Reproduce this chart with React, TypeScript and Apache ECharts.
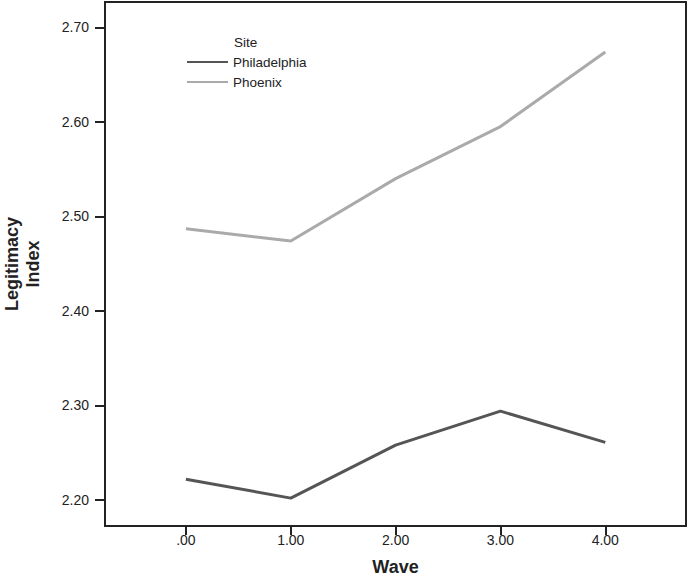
import React, { useEffect, useRef } from "react";
import * as echarts from "echarts";

const waves = [0, 1, 2, 3, 4];
const philadelphia = [2.222, 2.202, 2.258, 2.294, 2.261];
const phoenix = [2.487, 2.474, 2.54, 2.595, 2.674];
const yTicks = [2.2, 2.3, 2.4, 2.5, 2.6, 2.7];

const FONT = "'Liberation Sans', Arial, sans-serif";

export default function App() {
  const ref = useRef<HTMLDivElement>(null);
  useEffect(() => {
    document.body.style.margin = "0";
    const chart = echarts.init(ref.current!, undefined, { renderer: "svg" });
    chart.setOption({
      animation: false,
      backgroundColor: "#ffffff",
      textStyle: { fontFamily: FONT },
      title: {
        text: "Site",
        left: 229,
        top: 30,
        textStyle: { fontSize: 13.5, fontWeight: "normal", color: "#222", fontFamily: FONT },
      },
      legend: {
        orient: "vertical",
        left: 182,
        top: 50,
        icon: "rect",
        itemWidth: 41,
        itemHeight: 2,
        itemGap: 6,
        itemTextGap: 6,
        textStyle: { fontSize: 13.5, color: "#222", lineHeight: 14, fontFamily: FONT },
        data: ["Philadelphia", "Phoenix"],
      },
      grid: {
        left: 105,
        top: 2,
        right: 2,
        bottom: 50,
        show: true,
        borderColor: "#222",
        borderWidth: 2,
        containLabel: false,
        outerBoundsMode: "none",
      },
      xAxis: {
        type: "value",
        min: -0.772,
        max: 4.77,
        name: "Wave",
        nameLocation: "middle",
        nameGap: 33,
        nameTextStyle: { fontSize: 18, fontWeight: "bold", color: "#222", lineHeight: 16, fontFamily: FONT },
        axisLine: { show: true, onZero: false, lineStyle: { color: "#222", width: 2 } },
        axisTick: { show: true, length: 9, lineStyle: { color: "#222", width: 2 }, customValues: waves },
        axisLabel: {
          customValues: waves,
          fontSize: 14,
          color: "#222",
          margin: 7,
          formatter: (v: number) => (v === 0 ? ".00" : v.toFixed(2)),
        },
        splitLine: { show: false },
      },
      yAxis: {
        type: "value",
        min: 2.1725,
        max: 2.7268,
        name: "Legitimacy\nIndex",
        nameLocation: "middle",
        nameRotate: 90,
        nameGap: 62,
        nameTextStyle: { fontSize: 18, fontWeight: "bold", color: "#222", lineHeight: 21, fontFamily: FONT },
        axisLine: { show: true, onZero: false, lineStyle: { color: "#222", width: 2 } },
        axisTick: { show: true, length: 10, lineStyle: { color: "#222", width: 2 }, customValues: yTicks },
        axisLabel: {
          customValues: yTicks,
          fontSize: 14,
          color: "#222",
          margin: 16,
          formatter: (v: number) => v.toFixed(2),
        },
        splitLine: { show: false },
      },
      series: [
        {
          name: "Philadelphia",
          type: "line",
          data: waves.map((w, i) => [w, philadelphia[i]]),
          symbol: "none",
          color: "#555555",
          lineStyle: { width: 3, color: "#555555" },
        },
        {
          name: "Phoenix",
          type: "line",
          data: waves.map((w, i) => [w, phoenix[i]]),
          symbol: "none",
          color: "#aaaaaa",
          lineStyle: { width: 3, color: "#aaaaaa" },
        },
      ],
    });
    return () => chart.dispose();
  }, []);
  return <div ref={ref} style={{ width: 688, height: 576 }} />;
}
